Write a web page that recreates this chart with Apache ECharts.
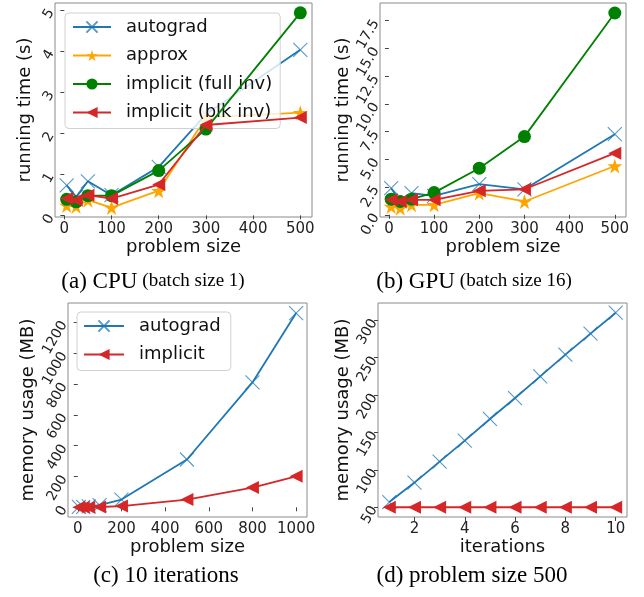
<!DOCTYPE html>
<html><head><meta charset="utf-8">
<script src="https://cdn.jsdelivr.net/npm/echarts@6/dist/echarts.min.js"></script>
<style>html,body{margin:0;padding:0;background:#fff}#c{width:644px;height:597px}</style>
</head><body><div id="c"></div>
<script>
// ---- data ----
const sizesTime = [5, 25, 50, 100, 200, 300, 500];
const cpuAutograd = [0.73, 0.45, 0.83, 0.49, 1.18, 2.46, 4.03];
const cpuApprox   = [0.24, 0.22, 0.37, 0.19, 0.60, 2.38, 2.50];
const cpuFull     = [0.39, 0.33, 0.48, 0.48, 1.09, 2.10, 4.93];
const cpuBlk      = [0.41, 0.37, 0.49, 0.41, 0.75, 2.20, 2.38];
const gpuAutograd = [2.40, 1.20, 1.95, 1.70, 2.77, 2.30, 7.27];
const gpuApprox   = [0.75, 0.60, 0.90, 0.90, 1.95, 1.20, 4.40];
const gpuFull     = [1.41, 1.20, 1.41, 2.00, 4.20, 7.05, 18.2];
const gpuBlk      = [1.35, 1.20, 1.35, 1.35, 2.16, 2.30, 5.56];
const sizesMem = [5, 25, 50, 100, 200, 500, 800, 1000];
const memAutograd = [2, 3, 6, 14, 50, 310, 810, 1260];
const memImplicit = [0, 0.5, 1, 2, 8, 50, 128, 201];
const iterations = [1, 2, 3, 4, 5, 6, 7, 8, 9, 10];
const iterAutograd = [57, 83, 111, 139, 168, 196, 225, 254, 282, 310];
const iterImplicit = [50, 50, 50, 50, 50, 50, 50, 50, 50, 50];
const ticksTimeX = [0, 100, 200, 300, 400, 500];
const ticksCpuY = [0, 1, 2, 3, 4, 5];
const ticksGpuY = [0, 2.5, 5, 7.5, 10, 12.5, 15, 17.5];
const ticksMemX = [0, 200, 400, 600, 800, 1000];
const ticksMemY = [0, 200, 400, 600, 800, 1000, 1200];
const ticksIterX = [2, 4, 6, 8, 10];
const ticksIterY = [50, 100, 150, 200, 250, 300];
const legendTime = ['autograd', 'approx', 'implicit (full inv)', 'implicit (blk inv)'];
const legendMem = ['autograd', 'implicit'];

// ---- style ----
const BLUE = '#1f77b4', ORANGE = '#ffa500', GREEN = '#008000', RED = '#d62728';
const FONT = 'DejaVu Sans';
const SYM = {
  x: 'path://M0,0L10,10M0,10L10,0',
  star: 'path://M50,0L61.2,34.5L97.6,34.5L68.2,55.9L79.4,90.5L50,69.1L20.6,90.5L31.8,55.9L2.4,34.5L38.8,34.5Z',
};
function zip(xs, ys) { return xs.map((x, i) => [x, ys[i]]); }

function xAxis(gi, min, max, ticks, name) {
  return {
    type: 'value', gridIndex: gi, min, max, name, nameLocation: 'middle', nameGap: 19,
    nameTextStyle: { fontFamily: FONT, fontSize: 18, color: '#111' },
    axisLine: { show: false }, splitLine: { show: false },
    axisTick: { show: true, length: 4, lineStyle: { color: '#444' }, customValues: ticks },
    axisLabel: { fontFamily: FONT, fontSize: 15, color: '#222', margin: 5, customValues: ticks,
      formatter: v => String(v) },
  };
}
function yAxis(gi, min, max, ticks, name, fmt) {
  return {
    type: 'value', gridIndex: gi, min, max, name, nameLocation: 'middle', nameGap: 21,
    nameTextStyle: { fontFamily: FONT, fontSize: 18, color: '#111' },
    axisLine: { show: false }, splitLine: { show: false },
    axisTick: { show: true, length: 4, lineStyle: { color: '#444' }, customValues: ticks },
    axisLabel: { fontFamily: FONT, fontSize: 14, color: '#222', margin: 4, rotate: 60,
      customValues: ticks, formatter: fmt || (v => String(v)) },
  };
}
function line(name, gi, xs, ys, color, kind, z) {
  const s = {
    name, type: 'line', xAxisIndex: gi, yAxisIndex: gi, data: zip(xs, ys),
    showAllSymbol: true, z: z, animation: false,
    lineStyle: { color, width: 1.8 },
  };
  if (kind === 'x') {
    Object.assign(s, { symbol: SYM.x, symbolSize: 14,
      itemStyle: { color, borderColor: color, borderWidth: 1.1, opacity: 0.75 } });
  } else if (kind === 'star') {
    Object.assign(s, { symbol: SYM.star, symbolSize: 15, itemStyle: { color } });
  } else if (kind === 'o') {
    Object.assign(s, { symbol: 'circle', symbolSize: 13, itemStyle: { color } });
  } else {
    Object.assign(s, { symbol: 'triangle', symbolSize: 13, symbolRotate: 90, itemStyle: { color } });
  }
  return s;
}
const gridBase = { show: true, borderColor: '#8a8a8a', borderWidth: 1, backgroundColor: 'transparent', containLabel: false };
const legendBase = {
  orient: 'vertical', backgroundColor: 'rgba(255,255,255,0.8)', borderColor: '#d0d0d0', borderWidth: 1,
  borderRadius: 4, itemWidth: 38, itemHeight: 14, itemGap: 8.5,
  textStyle: { fontFamily: FONT, fontSize: 18, color: '#111', lineHeight: 20, padding: [0, 0, 0, 10] },
};
const capRich = {
  a: { fontFamily: 'Liberation Serif', fontSize: 23, fontWeight: 'normal', color: '#000' },
  b: { fontFamily: 'Liberation Serif', fontSize: 19, fontWeight: 'normal', color: '#000' },
};
const capText = { fontWeight: 'normal', rich: capRich };

const option = {
  backgroundColor: '#fff',
  animation: false,
  grid: [
    Object.assign({ left: 55, top: 3, width: 257, height: 214 }, gridBase),
    Object.assign({ left: 380, top: 3, width: 246, height: 214 }, gridBase),
    Object.assign({ left: 68, top: 303, width: 239, height: 214 }, gridBase),
    Object.assign({ left: 378, top: 303, width: 249, height: 214 }, gridBase),
  ],
  xAxis: [
    xAxis(0, -19.75, 524.75, ticksTimeX, 'problem size'),
    xAxis(1, -19.75, 524.75, ticksTimeX, 'problem size'),
    xAxis(2, -44.75, 1049.75, ticksMemX, 'problem size'),
    xAxis(3, 0.55, 10.45, ticksIterX, 'iterations'),
  ],
  yAxis: [
    yAxis(0, -0.04, 5.17, ticksCpuY, 'running time (s)'),
    yAxis(1, -0.2, 19.1, ticksGpuY, 'running time (s)', v => v.toFixed(1)),
    yAxis(2, -63, 1325, ticksMemY, 'memory usage (MB)'),
    yAxis(3, 37, 323, ticksIterY, 'memory usage (MB)'),
  ],
  legend: [
    Object.assign({}, legendBase, { data: legendTime, left: 65, top: 13, padding: [4, 8, 6, 7] }),
    Object.assign({}, legendBase, { data: legendMem, left: 77, top: 312, padding: [4, 10, 6, 6], itemWidth: 40 }),
  ],
  title: [
    { text: '{a|(a) CPU} {b|(batch size 1)}', left: 153, textAlign: 'center', top: 270, padding: 0, textStyle: capText },
    { text: '{a|(b) GPU} {b|(batch size 16)}', left: 474, textAlign: 'center', top: 270, padding: 0, textStyle: capText },
    { text: '{a|(c) 10 iterations}', left: 166, textAlign: 'center', top: 564, padding: 0, textStyle: capText },
    { text: '{a|(d) problem size 500}', left: 472, textAlign: 'center', top: 564, padding: 0, textStyle: capText },
  ],
  series: [
    line('autograd', 0, sizesTime, cpuAutograd, BLUE, 'x', 2),
    line('approx', 0, sizesTime, cpuApprox, ORANGE, 'star', 3),
    line('implicit (full inv)', 0, sizesTime, cpuFull, GREEN, 'o', 4),
    line('implicit (blk inv)', 0, sizesTime, cpuBlk, RED, 'tri', 5),
    line('autograd', 1, sizesTime, gpuAutograd, BLUE, 'x', 2),
    line('approx', 1, sizesTime, gpuApprox, ORANGE, 'star', 3),
    line('implicit (full inv)', 1, sizesTime, gpuFull, GREEN, 'o', 4),
    line('implicit (blk inv)', 1, sizesTime, gpuBlk, RED, 'tri', 5),
    line('autograd', 2, sizesMem, memAutograd, BLUE, 'x', 2),
    line('implicit', 2, sizesMem, memImplicit, RED, 'tri', 5),
    line('autograd', 3, iterations, iterAutograd, BLUE, 'x', 2),
    line('implicit', 3, iterations, iterImplicit, RED, 'tri', 5),
  ],
};
const chart = echarts.init(document.getElementById('c'), null, { renderer: 'canvas' });
chart.setOption(option);
</script></body></html>
